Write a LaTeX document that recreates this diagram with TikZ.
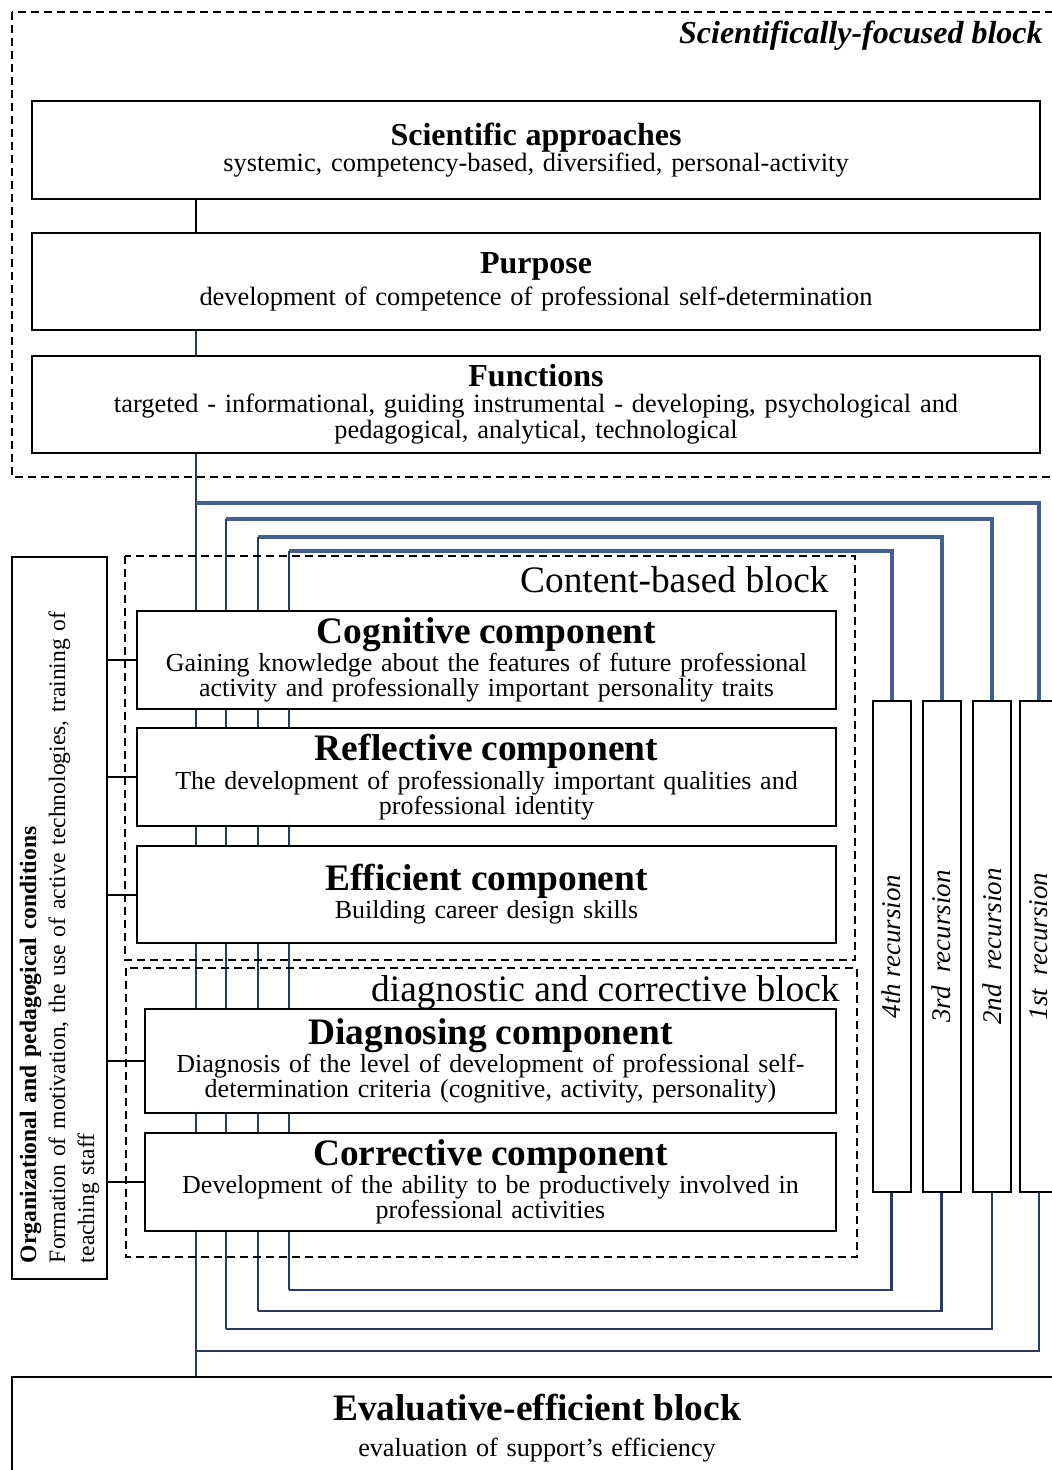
\documentclass[tikz,border=0pt]{standalone}
\usepackage{fontspec}
\setmainfont{Liberation Serif}
\usetikzlibrary{backgrounds}

\definecolor{loopblue}{RGB}{66,96,142}
\definecolor{spineblue}{RGB}{38,60,98}

% bold heading line inside a box
\newcommand{\boxhead}[2]{{\fontsize{#1}{#1}\selectfont\bfseries #2\par}}

\begin{document}
\begin{tikzpicture}[x=0.5pt, y=-0.5pt,
  dashbox/.style={draw, dash pattern=on 4pt off 2.5pt, line width=0.8pt},
  topbox/.style={draw, fill=white, line width=1pt, minimum width=504pt,
    text width=495pt, align=center, inner sep=0pt,
    font=\fontsize{13.2}{13}\selectfont},
  compbox/.style={draw, fill=white, line width=1pt, text width=340pt,
    align=center, inner sep=0pt, font=\fontsize{13}{12.5}\selectfont},
  recbox/.style={draw, fill=white, line width=1pt, rotate=90,
    minimum width=245.5pt, minimum height=19pt, inner sep=0pt,
    font=\fontsize{13.5}{13.5}\selectfont\itshape},
  blocklabel/.style={anchor=east, inner sep=0pt, font=\fontsize{18.7}{18.7}\selectfont},
  loopline/.style={draw=loopblue, line width=2pt},
  backline/.style={draw=spineblue, line width=1.2pt},
  link/.style={draw, line width=1pt}
]

  \useasboundingbox (0,0) rectangle (1052,1470);

  % --- Scientifically-focused block ---
  \draw[dashbox] (12,12) rectangle (1062,477);
  \node[anchor=east, inner sep=0pt, font=\fontsize{16}{16}\selectfont\bfseries\itshape]
    (scilabel) at (1043,36) {Scientifically-focused block};

  \node[topbox, minimum height=49pt] (sci) at (536,150)
    {\boxhead{16}{Scientific approaches}
     systemic, competency-based, diversified, personal-activity};
  \node[topbox, minimum height=48.5pt] (purp) at (536,281.5)
    {\boxhead{16}{Purpose}\vspace{3pt}
     development of competence of professional self-determination};
  \node[topbox, minimum height=48.5pt] (func) at (536,404.5)
    {\boxhead{16}{Functions}
     targeted - informational, guiding instrumental - developing, psychological and\\
     pedagogical, analytical, technological};

  % --- Content-based and diagnostic blocks ---
  \draw[dashbox] (125,556) rectangle (855,960);
  \node[blocklabel] (contlabel) at (829,580) {Content-based block};
  \draw[dashbox] (126,968) rectangle (857,1257);
  \node[blocklabel] (diaglabel) at (840,993) {diagnostic and corrective block};

  \node[compbox, minimum width=349.5pt, minimum height=49pt] (cogn) at (486.5,660)
    {\boxhead{18.7}{Cognitive component}
     Gaining knowledge about the features of future professional\\
     activity and professionally important personality traits};
  \node[compbox, minimum width=349.5pt, minimum height=49pt] (refl) at (486.5,777)
    {\boxhead{18.7}{Reflective component}
     The development of professionally important qualities and\\
     professional identity};
  \node[compbox, minimum width=349.5pt, minimum height=48.5pt] (effi) at (486.5,894.5)
    {\boxhead{18.7}{Efficient component}
     Building career design skills};
  \node[compbox, minimum width=345.5pt, minimum height=52pt] (diag) at (490.5,1061)
    {\boxhead{18.7}{Diagnosing component}
     Diagnosis of the level of development of professional self-\\
     determination criteria (cognitive, activity, personality)};
  \node[compbox, minimum width=345.5pt, minimum height=49pt] (corr) at (490.5,1182)
    {\boxhead{18.7}{Corrective component}
     Development of the ability to be productively involved in\\
     professional activities};

  % --- Organizational conditions (rotated) ---
  \node[draw, fill=white, line width=1pt, rotate=90, minimum width=361pt,
    minimum height=47.5pt, text width=345pt, align=left, inner sep=0pt,
    font=\fontsize{11.8}{14.5}\selectfont] (orgcond) at (59.5,918)
    {{\bfseries Organizational and pedagogical conditions}\\
     Formation of motivation, the use of active technologies, training of\\
     teaching staff};

  % --- Recursions ---
  \node[recbox] (rec4) at (891.5,946.5) {4th recursion};
  \node[recbox] (rec3) at (941.5,946.5) {3rd~~recursion};
  \node[recbox] (rec2) at (992,946.5) {2nd~~recursion};
  \node[recbox] (rec1) at (1039,946.5) {1st~~recursion};

  % --- Evaluative-efficient block ---
  \node[draw, fill=white, line width=1pt, minimum width=525pt, minimum height=51.5pt,
    text width=500pt, align=center, inner sep=0pt,
    font=\fontsize{13.1}{13.1}\selectfont] (eval) at (537,1428.5)
    {\boxhead{18.7}{Evaluative-efficient block}\vspace{5pt}
     evaluation of support's efficiency};

  % --- Connectors ---
  \coordinate (spine) at (196,0);
  \coordinate (l1a) at (196,503);  \coordinate (l1b) at (196,1351);
  \coordinate (l2a) at (226,519);  \coordinate (l2b) at (226,1329);
  \coordinate (l3a) at (258,537);  \coordinate (l3b) at (258,1311);
  \coordinate (l4a) at (289,551);  \coordinate (l4b) at (289,1290);

  \begin{scope}[on background layer]
    \draw[link] (sci.south -| spine) -- (purp.north -| spine);
    \draw[link, draw=spineblue] (purp.south -| spine) -- (func.north -| spine);
    \draw[backline, line width=1pt] (func.south -| spine) -- (eval.north -| spine);

    % loops out to the recursions and back
    \draw[loopline] (l1a) -| (rec1.east);
    \draw[backline] (rec1.west) |- (l1b);
    \foreach \k in {2,3,4} {
      \draw[loopline] (l\k a) -| (rec\k.east);
      \draw[backline] (rec\k.west) |- (l\k b);
      \draw[backline, line width=1pt] (l\k a) -- (l\k b);
    }

    % conditions feed every component
    \foreach \c in {cogn,refl,effi,diag,corr}
      \draw[link] (\c.west -| orgcond.south) -- (\c.west);
  \end{scope}

\end{tikzpicture}
\end{document}
